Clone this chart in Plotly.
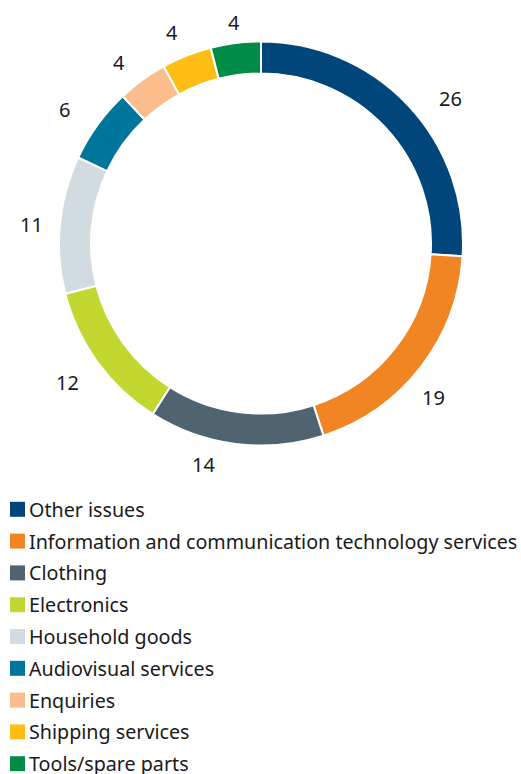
import math
import plotly.graph_objects as go

# Share of complaints by category (per cent)
categories = [
    "Other issues",
    "Information and communication technology services",
    "Clothing",
    "Electronics",
    "Household goods",
    "Audiovisual services",
    "Enquiries",
    "Shipping services",
    "Tools/spare parts",
]
values = [26, 19, 14, 12, 11, 6, 4, 4, 4]
colors = [
    "#00467b",
    "#f28523",
    "#4f6470",
    "#c2d72f",
    "#d2dbe0",
    "#00759b",
    "#fbbd8b",
    "#fdbd14",
    "#008c46",
]

W, H = 521, 774
CX, CY = 261, 243.5          # ring centre in pixels (from top-left)
R_OUT = 202                  # outer radius in pixels
R_IN = 170                   # inner radius in pixels
FONT = "Noto Sans"
TEXT_COLOR = "#1a1a1a"

# per-label placement tweaks: angle nudge (degrees) and label radius (px)
label_nudge = [5.7, 4.0, 7.3, 0.2, -0.7, -1.8, -2.0, -1.3, 0.2]
label_radius = [239, 231, 228, 238, 230, 238, 230, 229, 223]

# legend layout (pixels)
LEG_TOP = 509.3              # centre of first row
LEG_STEP = 31.8              # row pitch
SWATCH = 15                  # swatch side
SWATCH_X = 10
TEXT_X = 27                  # annotation box edge (text starts ~2px right)
LEG_FONT = 19.7

fig = go.Figure()
fig.add_trace(
    go.Pie(
        labels=categories,
        values=values,
        sort=False,
        direction="clockwise",
        rotation=0,
        hole=R_IN / R_OUT,
        marker=dict(colors=colors, line=dict(color="#ffffff", width=2)),
        textinfo="none",
        hoverinfo="label+value",
        showlegend=False,
        domain=dict(
            x=[(CX - R_OUT) / W, (CX + R_OUT) / W],
            y=[(H - CY - R_OUT) / H, (H - CY + R_OUT) / H],
        ),
    )
)

# value labels outside the ring at each slice's mid-angle
total = sum(values)
cum = 0
annotations = []
for v, nudge, rl in zip(values, label_nudge, label_radius):
    mid = (cum + v / 2) / total * 360 + nudge
    cum += v
    a = math.radians(mid)
    px = CX + rl * math.sin(a)
    py = CY - rl * math.cos(a)
    annotations.append(
        dict(
            x=px / W, y=1 - py / H, xref="paper", yref="paper",
            text=str(v), showarrow=False,
            xanchor="center", yanchor="middle",
            font=dict(size=20, color=TEXT_COLOR, family=FONT),
        )
    )

# legend: colour swatch + category name per row
shapes = []
for i, (name, col) in enumerate(zip(categories, colors)):
    yc = LEG_TOP + i * LEG_STEP
    shapes.append(
        dict(
            type="rect", xref="paper", yref="paper",
            x0=SWATCH_X / W, x1=(SWATCH_X + SWATCH) / W,
            y0=1 - (yc + SWATCH / 2) / H, y1=1 - (yc - SWATCH / 2) / H,
            fillcolor=col, line=dict(width=0),
        )
    )
    annotations.append(
        dict(
            x=TEXT_X / W, y=1 - yc / H, xref="paper", yref="paper",
            text=name, showarrow=False,
            xanchor="left", yanchor="middle",
            font=dict(size=LEG_FONT, color=TEXT_COLOR, family=FONT),
        )
    )

fig.update_layout(
    width=W,
    height=H,
    margin=dict(l=0, r=0, t=0, b=0, autoexpand=False),
    paper_bgcolor="#ffffff",
    plot_bgcolor="#ffffff",
    annotations=annotations,
    shapes=shapes,
    showlegend=False,
    font=dict(family=FONT),
)

fig.write_html("out.html")
